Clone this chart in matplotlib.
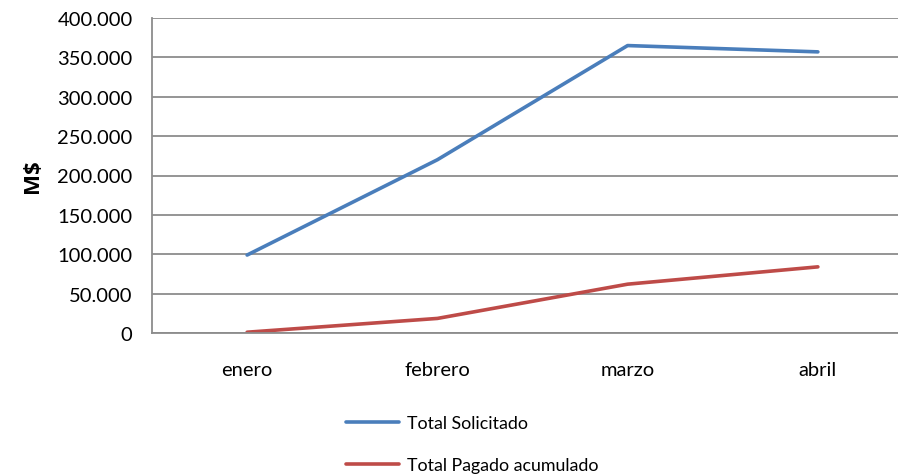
import matplotlib
matplotlib.use("Agg")
import matplotlib.pyplot as plt
from matplotlib.ticker import FuncFormatter, MultipleLocator

plt.rcParams['font.family'] = ['Lato', 'DejaVu Sans']

categories = ["enero", "febrero", "marzo", "abril"]
total_solicitado = [99000, 220000, 365000, 357000]
total_pagado = [1000, 18500, 62000, 84000]
series_names = ["Total Solicitado", "Total Pagado acumulado"]
y_label = "M$"

fig = plt.figure(figsize=(8.98, 4.77), dpi=100)
ax = fig.add_axes([152/898, 1-334/477, (913-152)/898, (334-19)/477])

x = list(range(len(categories)))
l1, = ax.plot(x, total_solicitado, color="#4A7EBB", lw=2.6, solid_capstyle="round")
l2, = ax.plot(x, total_pagado, color="#BE4B48", lw=2.6, solid_capstyle="round")

ax.set_xlim(-0.5, 3.5)
ax.set_ylim(0, 400000)
ax.yaxis.set_major_locator(MultipleLocator(50000))
ax.yaxis.set_major_formatter(FuncFormatter(lambda v, p: f"{int(v):,}".replace(",", ".")))
ax.set_xticks(x)
ax.set_xticklabels(categories)
ax.grid(axis="y", color="#8C8C8C", lw=1.3)
ax.set_axisbelow(True)
for s in ["top", "right"]:
    ax.spines[s].set_visible(False)
for s in ["left", "bottom"]:
    ax.spines[s].set_color("#8C8C8C")
    ax.spines[s].set_linewidth(1.3)
ax.tick_params(axis="y", length=0, pad=14, labelsize=14.5)
ax.tick_params(axis="x", length=0, pad=20, labelsize=14.5)
ax.set_ylabel(y_label, fontsize=16, fontweight="bold", labelpad=10,
              family=["Open Sans", "DejaVu Sans"])

fig.legend([l1, l2], series_names, loc="upper left",
           bbox_to_anchor=(346/898, 1-416/477), frameon=False,
           fontsize=12.8, handlelength=3.0, handletextpad=0.45,
           labelspacing=1.45, borderpad=0, borderaxespad=0)

fig.savefig("out.png", dpi=100)
